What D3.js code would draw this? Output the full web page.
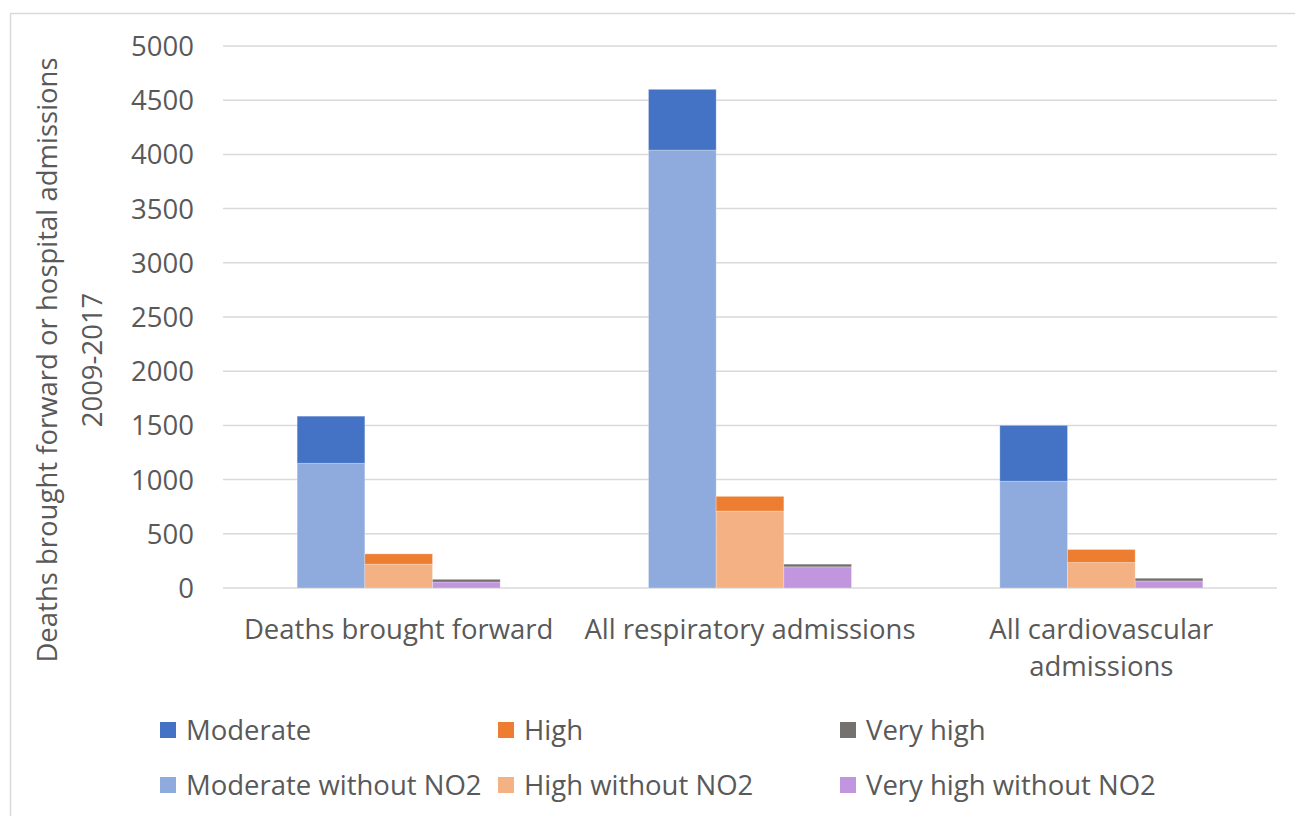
<!DOCTYPE html>
<meta charset="utf-8">
<style>
  body { margin: 0; background: #fff; }
  text { font-family: "Open Sans", sans-serif; fill: #595959; }
</style>
<body>
<script src="https://cdn.jsdelivr.net/npm/d3@7"></script>
<script>
// data
var categories = ["Deaths brought forward", "All respiratory admissions", "All cardiovascular admissions"];
var moderateWithoutNO2 = [1150, 4040, 985];
var moderate = [435, 560, 515];
var highWithoutNO2 = [220, 710, 235];
var high = [95, 135, 120];
var veryHighWithoutNO2 = [55, 195, 65];
var veryHigh = [25, 25, 25];
var yTicks = [0, 500, 1000, 1500, 2000, 2500, 3000, 3500, 4000, 4500, 5000];

var legendItems = [
    ["Moderate", "#4472C4"], ["High", "#ED7D31"], ["Very high", "#767171"],
    ["Moderate without NO2", "#8FAADC"], ["High without NO2", "#F4B183"], ["Very high without NO2", "#C196DF"]
];

// each bar = [bottom series, top series]
var groups = [
    {key: "moderate", parts: [[moderateWithoutNO2, "#8FAADC"], [moderate, "#4472C4"]]},
    {key: "high", parts: [[highWithoutNO2, "#F4B183"], [high, "#ED7D31"]]},
    {key: "veryhigh", parts: [[veryHighWithoutNO2, "#C196DF"], [veryHigh, "#767171"]]}
];

var W = 1295, H = 816, fs = "27.5px";
var svg = d3.select("body").append("svg").attr("width", W).attr("height", H);

// chart border
svg.append("rect")
    .attr("x", 10.5).attr("y", 13.5)
    .attr("width", 1300).attr("height", 820)
    .attr("fill", "none").attr("stroke", "#d9d9d9").attr("stroke-width", 1.5);

var x = d3.scaleBand().domain(categories).range([223, 1277]);
var y = d3.scaleLinear().domain([0, 5000]).range([588, 46]);

// gridlines
svg.append("g").selectAll("line").data(yTicks).enter().append("line")
    .attr("x1", 223).attr("x2", 1277)
    .attr("y1", function(d) { return y(d); })
    .attr("y2", function(d) { return y(d); })
    .attr("stroke", "#d9d9d9").attr("stroke-width", 1.5);

// y tick labels
svg.append("g").selectAll("text").data(yTicks).enter().append("text")
    .attr("x", 194)
    .attr("y", function(d) { return y(d); })
    .attr("dy", "0.36em")
    .attr("text-anchor", "end")
    .style("font-size", fs)
    .text(function(d) { return d; });

// bars
var groupW = 203;
var xb = d3.scaleBand().domain(groups.map(function(g) { return g.key; }))
    .range([0, groupW]);

groups.forEach(function(g) {
    categories.forEach(function(c, i) {
        var base = 0;
        g.parts.forEach(function(p) {
            var v = p[0][i];
            var x0 = x(c) + (x.bandwidth() - groupW) / 2 + xb(g.key);
            svg.append("rect")
                .attr("x", x0)
                .attr("y", y(base + v))
                .attr("width", xb.bandwidth())
                .attr("height", y(base) - y(base + v))
                .attr("fill", p[1])
                .attr("stroke", "rgba(255,255,255,0.25)")
                .attr("stroke-width", 1);
            base += v;
        });
    });
});

// category labels, wrapped to the band width
function wrapLines(txt, maxW) {
    var words = txt.split(" "), lines = [], cur = "";
    var probe = svg.append("text").style("font-size", fs);
    words.forEach(function(w) {
        var t = cur ? cur + " " + w : w;
        probe.text(t);
        if (probe.node().getComputedTextLength() > maxW && cur) {
            lines.push(cur); cur = w;
        } else cur = t;
    });
    lines.push(cur);
    probe.remove();
    return lines;
}
categories.forEach(function(c) {
    var lines = wrapLines(c, x.bandwidth());
    var t = svg.append("text")
        .attr("text-anchor", "middle")
        .style("font-size", fs);
    lines.forEach(function(l, k) {
        t.append("tspan")
            .attr("x", x(c) + x.bandwidth() / 2)
            .attr("y", 639 + k * 37)
            .text(l);
    });
});

// y axis title
var yt = svg.append("text")
    .attr("transform", "translate(0,360) rotate(-90)")
    .attr("text-anchor", "middle")
    .style("font-size", fs);
yt.append("tspan").attr("x", 0).attr("y", 57).text("Deaths brought forward or hospital admissions");
yt.append("tspan").attr("x", 0).attr("y", 102).text("2009-2017");

// legend
var legX = [160, 498, 840], legY = [730, 785];
legendItems.forEach(function(d, i) {
    var lx = legX[i % 3], ly = legY[Math.floor(i / 3)];
    svg.append("rect")
        .attr("x", lx).attr("y", ly - 8)
        .attr("width", 16).attr("height", 16)
        .attr("fill", d[1]);
    svg.append("text")
        .attr("x", lx + 26).attr("y", ly)
        .attr("dy", "0.36em")
        .style("font-size", fs)
        .text(d[0]);
});
</script>
</body>
